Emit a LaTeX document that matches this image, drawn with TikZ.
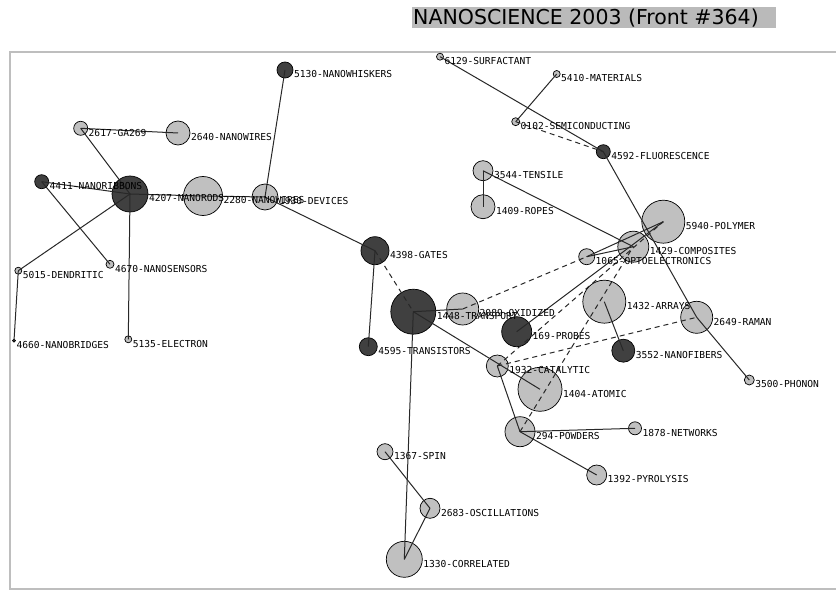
\documentclass[tikz,border=0pt]{standalone}
\usepackage{fontspec}
\newfontfamily\titlefont{DejaVu Sans}
\newfontfamily\termfont{DejaVu Sans Mono}
\definecolor{lightfill}{RGB}{192,192,192}
\definecolor{darkfill}{RGB}{64,64,64}
\definecolor{linkcol}{RGB}{40,40,40}
\definecolor{framecol}{RGB}{190,190,190}
\definecolor{titlebox}{RGB}{186,186,186}
\tikzset{
  kwbase/.style={circle, draw=black, line width=0.7pt, inner sep=0pt, outer sep=0pt},
  light/.style={kwbase, fill=lightfill},
  dark/.style={kwbase, fill=darkfill},
  link/.style={draw=linkcol, line width=1pt},
  dlink/.style={link, dash pattern=on 5pt off 4pt},
  lbl/.style={anchor=west, inner sep=0pt, outer sep=0pt, text=black,
    font=\termfont\fontsize{9.6}{10}\selectfont}
}
% circle for a keyword: name, x, y, diameter, style
\newcommand\kw[5]{\node[#5, minimum size=#4pt] (#1) at (#2,#3) {};}
% keyword label to the right of its circle
\newcommand\kwlabel[2]{\node[lbl] (#1-l) at ([xshift=1pt,yshift=-4.5pt]#1.east) {#2};}
\begin{document}
\begin{tikzpicture}[x=1pt,y=-1pt]
\useasboundingbox (0,0) rectangle (836,591);
\fill[white] (0,0) rectangle (836,591);
% title
\fill[titlebox] (412,7) rectangle (776,28.5);
\node[anchor=west, inner sep=0pt, font=\titlefont\fontsize{20.5}{22}\selectfont] (title) at (413,17.8) {NANOSCIENCE 2003 (Front \#364)};
% frame
\draw[framecol, line width=2pt] (836,52.5) -- (10,52.5) -- (10,589) -- (836,589);

% keyword circles
\kw{whiskers}{285}{70}{16}{dark}
\kw{surfactant}{440}{56.7}{7}{light}
\kw{materials}{556.7}{74}{7}{light}
\kw{semicond}{515.7}{121.7}{8}{light}
\kw{ga}{80.7}{128.3}{14}{light}
\kw{nw}{178}{133}{24}{light}
\kw{fluor}{603.3}{151.7}{14}{dark}
\kw{tensile}{483}{170.7}{20}{light}
\kw{ribbons}{41.7}{181.7}{14}{dark}
\kw{rods}{130}{194}{36}{dark}
\kw{nwb}{203}{196}{39}{light}
\kw{devices}{265}{197}{26}{light}
\kw{ropes}{483}{206.7}{24}{light}
\kw{polymer}{663.3}{221.7}{43}{light}
\kw{composites}{633.3}{246.7}{31}{light}
\kw{gates}{375}{250.7}{28}{dark}
\kw{opto}{586.7}{256.7}{16}{light}
\kw{sensors}{110}{264.3}{8}{light}
\kw{dendritic}{18.3}{270.7}{7}{light}
\kw{arrays}{604.3}{301.7}{43}{light}
\kw{oxidized}{462.7}{309}{32}{light}
\kw{transport}{413.3}{311.7}{45}{dark}
\kw{raman}{696.7}{317.3}{32}{light}
\kw{probes}{516.7}{331.7}{30}{dark}
\kw{bridges}{14}{340.7}{3}{dark}
\kw{electron}{128.3}{339.3}{7}{light}
\kw{transistors}{368.3}{346.7}{18}{dark}
\kw{nanofibers}{623.3}{350.7}{23}{dark}
\kw{catalytic}{497.3}{366}{22}{light}
\kw{phonon}{749.3}{380}{10}{light}
\kw{atomic}{540}{389.3}{44}{light}
\kw{networks}{635}{428.3}{13}{light}
\kw{powders}{520}{431.7}{30}{light}
\kw{spin}{385}{451.7}{16}{light}
\kw{pyrolysis}{596.7}{475}{20}{light}
\kw{osc}{430}{508.3}{20}{light}
\kw{correlated}{404.3}{559.3}{36}{light}

% solid links
\draw[link] (ga.center) -- (nw.center);
\draw[link] (ga.center) -- (rods.center);
\draw[link] (ribbons.center) -- (rods.center);
\draw[link] (ribbons.center) -- (sensors.center);
\draw[link] (rods.center) -- (dendritic.center);
\draw[link] (rods.center) -- (electron.center);
\draw[link] (dendritic.center) -- (bridges.center);
\draw[link] (rods.center) -- (nwb.center);
\draw[link] (nwb.center) -- (devices.center);
\draw[link] (whiskers.center) -- (devices.center);
\draw[link] (devices.center) -- (gates.center);
\draw[link] (gates.center) -- (transistors.center);
\draw[link] (transport.center) -- (oxidized.center);
\draw[link] (transport.center) -- (correlated.center);
\draw[link] (transport.center) -- (atomic.center);
\draw[link] (catalytic.center) -- (powders.center);
\draw[link] (powders.center) -- (networks.center);
\draw[link] (powders.center) -- (pyrolysis.center);
\draw[link] (spin.center) -- (osc.center);
\draw[link] (osc.center) -- (correlated.center);
\draw[link] (surfactant.center) -- (fluor.center);
\draw[link] (materials.center) -- (semicond.center);
\draw[link] (fluor.center) -- (raman.center);
\draw[link] (raman.center) -- (phonon.center);
\draw[link] (tensile.center) -- (composites.center);
\draw[link] (tensile.center) -- (ropes.center);
\draw[link] (opto.center) -- (polymer.center);
\draw[link] (opto.center) -- (composites.center);
\draw[link] (probes.center) -- (polymer.center);
\draw[link] (arrays.center) -- (nanofibers.center);

% dashed links
\draw[dlink] (gates.center) -- (transport.center);
\draw[dlink] (semicond.center) -- (fluor.center);
\draw[dlink] (oxidized.center) -- (opto.center);
\draw[dlink] (catalytic.center) -- (raman.center);
\draw[dlink] (powders.center) -- (composites.center);
\draw[dlink] (catalytic.center) -- (polymer.center);

% labels
\kwlabel{whiskers}{5130-NANOWHISKERS}
\kwlabel{surfactant}{6129-SURFACTANT}
\kwlabel{materials}{5410-MATERIALS}
\kwlabel{semicond}{0102-SEMICONDUCTING}
\kwlabel{ga}{2617-GA269}
\kwlabel{nw}{2640-NANOWIRES}
\kwlabel{fluor}{4592-FLUORESCENCE}
\kwlabel{tensile}{3544-TENSILE}
\kwlabel{ribbons}{4411-NANORIBBONS}
\kwlabel{rods}{4207-NANORODS}
\kwlabel{nwb}{2280-NANOWIRES}
\kwlabel{devices}{1930-DEVICES}
\kwlabel{ropes}{1409-ROPES}
\kwlabel{polymer}{5940-POLYMER}
\kwlabel{composites}{1429-COMPOSITES}
\kwlabel{gates}{4398-GATES}
\kwlabel{opto}{1065-OPTOELECTRONICS}
\kwlabel{sensors}{4670-NANOSENSORS}
\kwlabel{dendritic}{5015-DENDRITIC}
\kwlabel{arrays}{1432-ARRAYS}
\kwlabel{oxidized}{2089-OXIDIZED}
\kwlabel{transport}{1448-TRANSPORT}
\kwlabel{raman}{2649-RAMAN}
\kwlabel{probes}{169-PROBES}
\kwlabel{bridges}{4660-NANOBRIDGES}
\kwlabel{electron}{5135-ELECTRON}
\kwlabel{transistors}{4595-TRANSISTORS}
\kwlabel{nanofibers}{3552-NANOFIBERS}
\kwlabel{catalytic}{1932-CATALYTIC}
\kwlabel{phonon}{3500-PHONON}
\kwlabel{atomic}{1404-ATOMIC}
\kwlabel{networks}{1878-NETWORKS}
\kwlabel{powders}{294-POWDERS}
\kwlabel{spin}{1367-SPIN}
\kwlabel{pyrolysis}{1392-PYROLYSIS}
\kwlabel{osc}{2683-OSCILLATIONS}
\kwlabel{correlated}{1330-CORRELATED}
\end{tikzpicture}
\end{document}
